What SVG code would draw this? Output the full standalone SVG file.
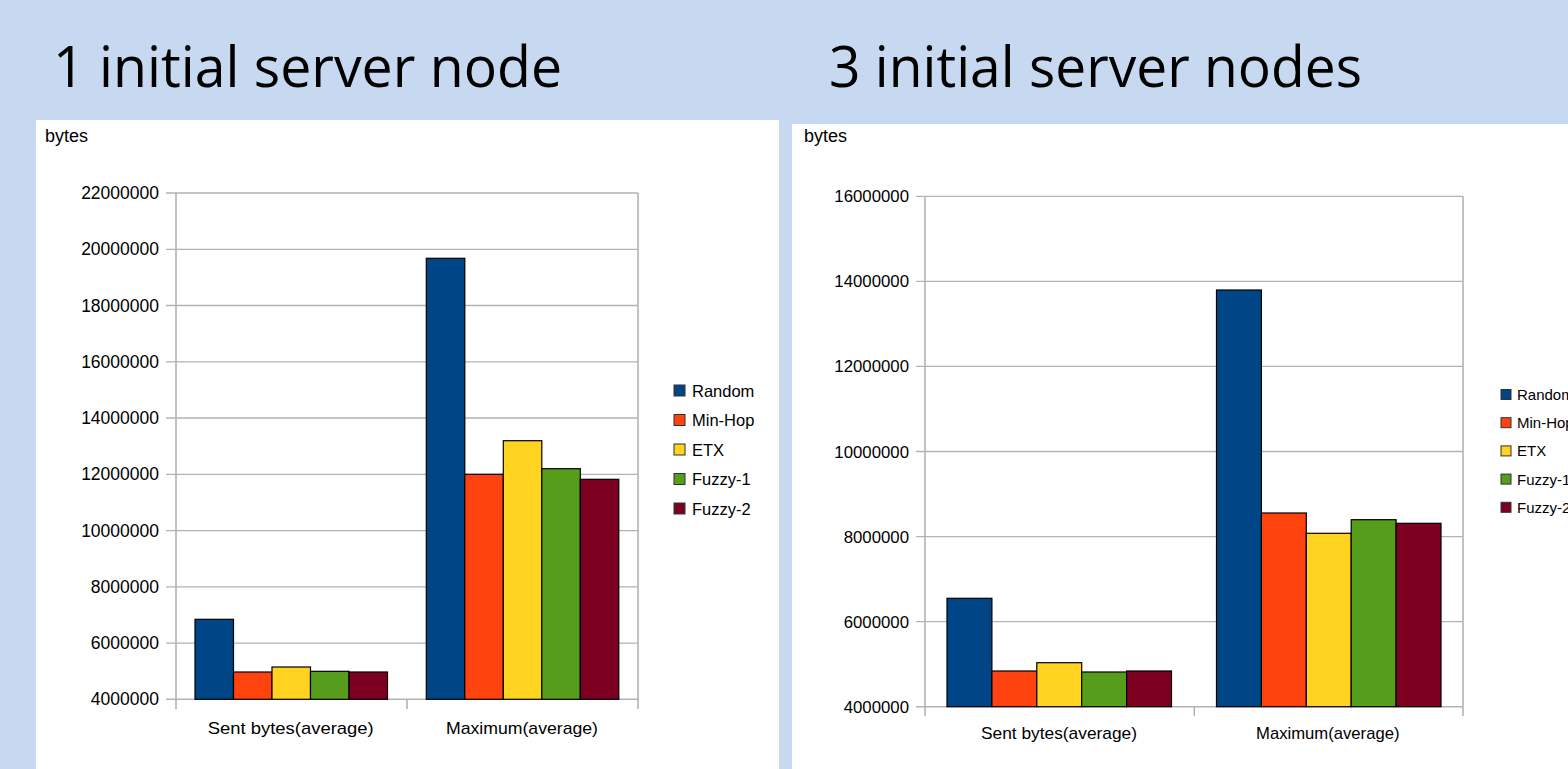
<svg xmlns="http://www.w3.org/2000/svg" width="1568" height="769" viewBox="0 0 1568 769">
<style>
.title{font-family:"Open Sans","Liberation Sans",sans-serif;font-size:57px;fill:#000}
.unit{font-family:"Liberation Sans",Arial,sans-serif;font-size:18px;fill:#000}
.ylab{font-family:"Liberation Sans",Arial,sans-serif;font-size:17.5px;fill:#000;text-anchor:end}
.ylab2{font-family:"Liberation Sans",Arial,sans-serif;font-size:16.8px;fill:#000;text-anchor:end}
.cat{font-family:"Liberation Sans",Arial,sans-serif;font-size:17px;fill:#000}
.leg{font-family:"Liberation Sans",Arial,sans-serif;font-size:16.5px;fill:#000}
.leg2{font-family:"Liberation Sans",Arial,sans-serif;font-size:15px;fill:#000}
.grid{stroke:#b3b3b3;stroke-width:1.3;fill:none}
.axis{stroke:#b3b3b3;stroke-width:1.6;fill:none}
.bar{stroke:#000;stroke-width:1.2}
.c1{fill:#004586}.c2{fill:#ff420e}.c3{fill:#ffd320}.c4{fill:#579d1c}.c5{fill:#7e0021}
.sw{stroke:#333;stroke-width:1}
</style>
<rect x="0" y="0" width="1568" height="769" fill="#c6d9f0"/>
<text class="title" x="53" y="87" textLength="509" lengthAdjust="spacingAndGlyphs">1 initial server node</text>
<text class="title" x="829" y="87" textLength="533" lengthAdjust="spacingAndGlyphs">3 initial server nodes</text>

<g id="chart-left">
<rect x="36" y="120" width="743" height="649" fill="#fff"/>
<text class="unit" x="45" y="142">bytes</text>
<g id="left-grid">
<path class="grid" d="M166 193H638M166 249.3H638M166 305.5H638M166 361.8H638M166 418H638M166 474.3H638M166 530.6H638M166 586.8H638M166 643.1H638"/>
<path class="axis" d="M166 699.3H638M176 193V709M407 699.3V709M638 193V709"/>
</g>
<g id="left-yaxis">
<text class="ylab" x="159" y="199">22000000</text>
<text class="ylab" x="159" y="255.3">20000000</text>
<text class="ylab" x="159" y="311.5">18000000</text>
<text class="ylab" x="159" y="367.8">16000000</text>
<text class="ylab" x="159" y="424">14000000</text>
<text class="ylab" x="159" y="480.3">12000000</text>
<text class="ylab" x="159" y="536.6">10000000</text>
<text class="ylab" x="159" y="592.8">8000000</text>
<text class="ylab" x="159" y="649.1">6000000</text>
<text class="ylab" x="159" y="705.3">4000000</text>
</g>
<g id="left-bars">
<rect class="bar c1" x="195" y="619.3" width="38.5" height="80"/>
<rect class="bar c2" x="233.5" y="672" width="38.5" height="27.3"/>
<rect class="bar c3" x="272" y="667" width="38.5" height="32.3"/>
<rect class="bar c4" x="310.5" y="671.3" width="38.5" height="28"/>
<rect class="bar c5" x="349" y="672" width="38.5" height="27.3"/>
<rect class="bar c1" x="426.3" y="258.3" width="38.5" height="441"/>
<rect class="bar c2" x="464.8" y="474.3" width="38.5" height="225"/>
<rect class="bar c3" x="503.3" y="440.7" width="38.5" height="258.6"/>
<rect class="bar c4" x="541.8" y="468.7" width="38.5" height="230.6"/>
<rect class="bar c5" x="580.3" y="479.3" width="38.5" height="220"/>
</g>
<text class="cat" x="207.7" y="734" textLength="166" lengthAdjust="spacingAndGlyphs">Sent bytes(average)</text>
<text class="cat" x="446" y="734" textLength="152" lengthAdjust="spacingAndGlyphs">Maximum(average)</text>
<g id="left-legend">
<rect class="sw c1" x="674" y="385" width="11" height="11"/><text class="leg" x="692" y="396.5">Random</text>
<rect class="sw c2" x="674" y="414.5" width="11" height="11"/><text class="leg" x="692" y="426">Min-Hop</text>
<rect class="sw c3" x="674" y="444" width="11" height="11"/><text class="leg" x="692" y="455.5">ETX</text>
<rect class="sw c4" x="674" y="473.5" width="11" height="11"/><text class="leg" x="692" y="485">Fuzzy-1</text>
<rect class="sw c5" x="674" y="503" width="11" height="11"/><text class="leg" x="692" y="514.5">Fuzzy-2</text>
</g>
</g>

<g id="chart-right">
<rect x="792" y="124" width="776" height="645" fill="#fff"/>
<text class="unit" x="804" y="142">bytes</text>
<g id="right-grid">
<path class="grid" d="M916 196.3H1463M916 281.4H1463M916 366.4H1463M916 451.5H1463M916 536.6H1463M916 621.7H1463"/>
<path class="axis" d="M916 706.7H1463M925 196.3V716M1194.3 706.7V716M1463 196.3V716"/>
</g>
<g id="right-yaxis">
<text class="ylab2" x="909" y="202.3">16000000</text>
<text class="ylab2" x="909" y="287.4">14000000</text>
<text class="ylab2" x="909" y="372.4">12000000</text>
<text class="ylab2" x="909" y="457.5">10000000</text>
<text class="ylab2" x="909" y="542.6">8000000</text>
<text class="ylab2" x="909" y="627.7">6000000</text>
<text class="ylab2" x="909" y="712.7">4000000</text>
</g>
<g id="right-bars">
<rect class="bar c1" x="947" y="598.3" width="44.9" height="108.4"/>
<rect class="bar c2" x="991.9" y="671" width="44.9" height="35.7"/>
<rect class="bar c3" x="1036.8" y="662.7" width="44.9" height="44"/>
<rect class="bar c4" x="1081.7" y="672" width="44.9" height="34.7"/>
<rect class="bar c5" x="1126.6" y="671" width="44.9" height="35.7"/>
<rect class="bar c1" x="1216.5" y="290" width="44.9" height="416.7"/>
<rect class="bar c2" x="1261.4" y="513" width="44.9" height="193.7"/>
<rect class="bar c3" x="1306.3" y="533.3" width="44.9" height="173.4"/>
<rect class="bar c4" x="1351.2" y="519.7" width="44.9" height="187"/>
<rect class="bar c5" x="1396.1" y="523.3" width="44.9" height="183.4"/>
</g>
<text class="cat" x="981" y="739" textLength="156" lengthAdjust="spacingAndGlyphs">Sent bytes(average)</text>
<text class="cat" x="1256" y="739" textLength="143.5" lengthAdjust="spacingAndGlyphs">Maximum(average)</text>
<g id="right-legend">
<rect class="sw c1" x="1501" y="389.5" width="10" height="10"/><text class="leg2" x="1517" y="400">Random</text>
<rect class="sw c2" x="1501" y="417.7" width="10" height="10"/><text class="leg2" x="1517" y="428.2">Min-Hop</text>
<rect class="sw c3" x="1501" y="445.9" width="10" height="10"/><text class="leg2" x="1517" y="456.4">ETX</text>
<rect class="sw c4" x="1501" y="474.1" width="10" height="10"/><text class="leg2" x="1517" y="484.6">Fuzzy-1</text>
<rect class="sw c5" x="1501" y="502.3" width="10" height="10"/><text class="leg2" x="1517" y="512.8">Fuzzy-2</text>
</g>
</g>
</svg>
